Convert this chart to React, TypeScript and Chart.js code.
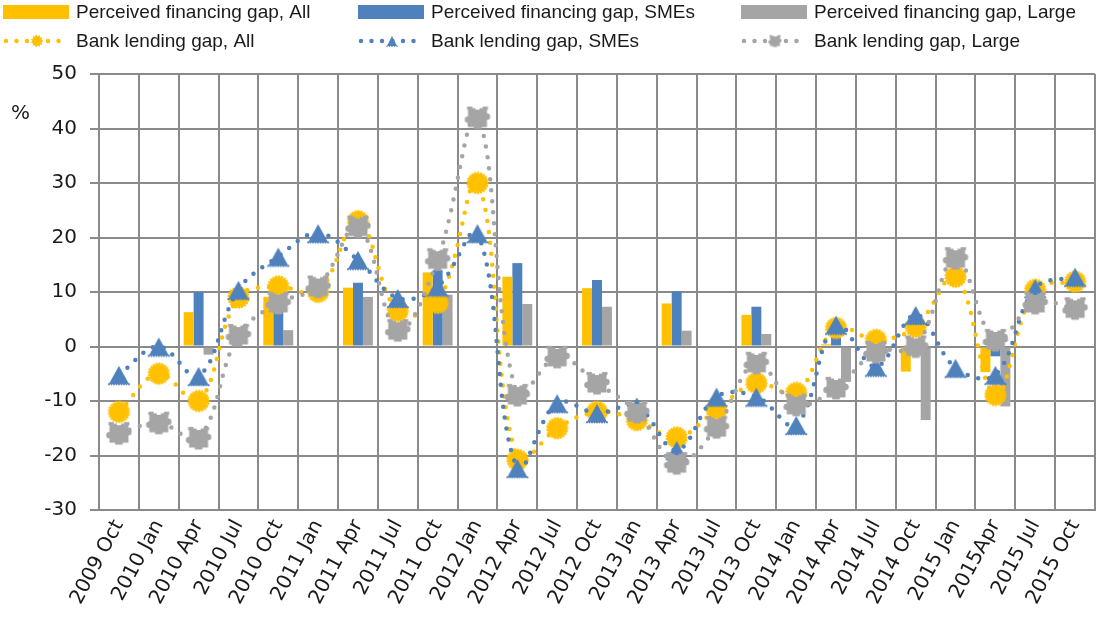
import React, { useEffect, useRef } from 'react';
import { Chart, registerables } from 'chart.js';

Chart.register(...registerables);

const categories = [
  '2009 Oct', '2010 Jan', '2010 Apr', '2010 Jul', '2010 Oct', '2011 Jan', '2011 Apr', '2011 Jul',
  '2011 Oct', '2012 Jan', '2012 Apr', '2012 Jul', '2012 Oct', '2013 Jan', '2013 Apr', '2013 Jul',
  '2013 Oct', '2014 Jan', '2014 Apr', '2014 Jul', '2014 Oct', '2015 Jan', '2015Apr', '2015 Jul', '2015 Oct',
];

const perceivedAll = [null, null, 6.3, null, 9.1, null, 10.8, null, 13.6, null, 12.8, null, 10.7, null, 7.9, null, 5.8, null, 0.4, null, -4.6, null, -4.7, null, null];
const perceivedSMEs = [null, null, 10, null, 7, null, 11.7, null, 14, null, 15.3, null, 12.2, null, 10.1, null, 7.3, null, 1.7, null, 1.0, null, -1.8, null, null];
const perceivedLarge = [null, null, -1.5, null, 3, null, 9.1, null, 9.5, null, 7.8, null, 7.3, null, 2.9, null, 2.3, null, -6.5, null, -13.5, null, -11, null, null];

const lendingAll = [-12, -5, -10, 9, 11, 10, 23, 6.5, 8, 30, -20.8, -15, -12, -13.5, -16.7, -11.6, -6.7, -8.5, 3.4, 1.2, 3.6, 12.8, -8.9, 10.4, 11.9];
const lendingSMEs = [-5.2, 0, -5.4, 10.4, 16.5, 20.8, 15.9, 8.9, 11, 20.8, -22.3, -10.4, -12.2, -11, -19, -9.2, -9.2, -14.4, 4, -3.7, 5.8, -3.9, -5.2, 10.7, 12.8];
const lendingLarge = [-15.9, -14, -16.8, 2.1, 8, 11, 22, 3, 16, 42, -8.9, -1.9, -6.7, -12, -21.4, -14.8, -3, -10.7, -7.6, -1, 0, 16.2, 1.2, 8, 7];

const yTicks = { min: -30, max: 50, step: 10 };

const YELLOW = '#FFC000';
const BLUE = '#4F81BD';
const GRAY = '#A5A5A5';
const GRID = '#8a8a8a';
const TXT = '#1a1a1a';

function makeCanvas(w: number, h: number) {
  const c = document.createElement('canvas');
  c.width = w;
  c.height = h;
  return c;
}

function rimDots(ctx: CanvasRenderingContext2D, pts: [number, number][], r: number) {
  for (const [x, y] of pts) {
    ctx.beginPath();
    ctx.arc(x, y, r, 0, Math.PI * 2);
    ctx.fill();
  }
}

function sunMarker(r: number, color: string) {
  const size = Math.ceil(2 * r + 6);
  const c = makeCanvas(size, size);
  const ctx = c.getContext('2d')!;
  const cx = size / 2, cy = size / 2;
  ctx.fillStyle = color;
  ctx.beginPath();
  ctx.arc(cx, cy, r, 0, Math.PI * 2);
  ctx.fill();
  const n = Math.max(8, Math.round(r * 2.2));
  const pts: [number, number][] = [];
  for (let i = 0; i < n; i++) {
    const a = (i / n) * Math.PI * 2;
    pts.push([cx + Math.cos(a) * (r + 0.4), cy + Math.sin(a) * (r + 0.4)]);
  }
  rimDots(ctx, pts, r > 6 ? 1.3 : 0.8);
  return c;
}

function triangleMarker(w: number, h: number, color: string) {
  const cw = Math.ceil(w + 4), ch = Math.ceil(h + 4);
  const c = makeCanvas(cw, ch);
  const ctx = c.getContext('2d')!;
  const cx = cw / 2, cy = ch / 2;
  ctx.fillStyle = color;
  ctx.beginPath();
  ctx.moveTo(cx, cy - h / 2);
  ctx.lineTo(cx + w / 2, cy + h / 2);
  ctx.lineTo(cx - w / 2, cy + h / 2);
  ctx.closePath();
  ctx.fill();
  const pts: [number, number][] = [];
  const n = Math.max(4, Math.round(w / 2.5));
  for (let i = 0; i <= n; i++) pts.push([cx - w / 2 + (w * i) / n, cy + h / 2 + 0.3]);
  rimDots(ctx, pts, w > 12 ? 1.1 : 0.7);
  return c;
}

function puzzleMarker(s: number, color: string) {
  const size = Math.ceil(s * 1.45);
  const c = makeCanvas(size, size);
  const ctx = c.getContext('2d')!;
  const cx = size / 2, cy = size / 2;
  const h = s / 2;
  const k = s * 0.17;
  ctx.fillStyle = color;
  ctx.fillRect(cx - h, cy - h, s, s);
  ctx.beginPath();
  ctx.arc(cx + h, cy - s * 0.05, k, 0, Math.PI * 2);
  ctx.fill();
  ctx.beginPath();
  ctx.arc(cx - h, cy + s * 0.1, k, 0, Math.PI * 2);
  ctx.fill();
  ctx.fillRect(cx - h - k * 0.3, cy - h - k * 0.5, s * 0.28, k);
  ctx.fillRect(cx + h - s * 0.28 + k * 0.3, cy - h - k * 0.5, s * 0.28, k);
  ctx.fillRect(cx - s * 0.2, cy + h - k * 0.4, s * 0.4, k);
  ctx.clearRect(cx - s * 0.1, cy - h - 1, s * 0.2, k * 0.7);
  return c;
}

export default function App() {
  const ref = useRef<HTMLCanvasElement>(null);

  useEffect(() => {
    document.body.style.margin = '0';
    document.body.style.overflow = 'hidden';

    const sun = sunMarker(9.5, YELLOW);
    const tri = triangleMarker(20, 18, BLUE);
    const puz = puzzleMarker(19, GRAY);
    const sunS = sunMarker(5, YELLOW);
    const triS = triangleMarker(10, 10, BLUE);
    const puzS = puzzleMarker(10, GRAY);

    const legendPlugin = {
      id: 'customLegend',
      afterDraw(chart: any) {
        const ctx: CanvasRenderingContext2D = chart.ctx;
        const ds = chart.data.datasets;
        const cols = [3, 358, 741];
        const colors = [YELLOW, BLUE, GRAY];
        const smalls = [sunS, triS, puzS];
        ctx.save();
        ctx.font = '19px "Liberation Sans", Arial, sans-serif';
        ctx.textBaseline = 'middle';
        ctx.textAlign = 'left';
        for (let i = 0; i < 3; i++) {
          const x0 = cols[i];
          ctx.fillStyle = colors[i];
          ctx.fillRect(x0, 5, 66, 14);
          ctx.fillStyle = TXT;
          ctx.fillText(ds[i].label, x0 + 73, 13);
          ctx.save();
          ctx.strokeStyle = colors[i];
          ctx.lineWidth = 4.5;
          ctx.lineCap = 'round';
          ctx.setLineDash([0, 10.5]);
          ctx.beginPath();
          ctx.moveTo(x0 + 3, 41);
          ctx.lineTo(x0 + 63, 41);
          ctx.stroke();
          ctx.restore();
          const m = smalls[i];
          ctx.drawImage(m, x0 + 34 - m.width / 2, 41 - m.height / 2);
          ctx.fillStyle = TXT;
          ctx.fillText(ds[i + 3].label, x0 + 73, 42);
        }
        ctx.font = '20px "DejaVu Sans", sans-serif';
        ctx.fillText('%', 11, 114);
        ctx.restore();
      },
    };

    const lineCommon = {
      type: 'line' as const,
      borderWidth: 4.5,
      borderDash: [0, 11],
      borderCapStyle: 'round' as const,
      borderJoinStyle: 'round' as const,
      tension: 0.38,
      fill: false,
      pointRadius: 10,
      pointHoverRadius: 10,
    };

    const chart = new Chart(ref.current!, {
      type: 'bar',
      data: {
        labels: categories,
        datasets: [
          { type: 'bar', label: 'Perceived financing gap, All', data: perceivedAll, backgroundColor: YELLOW, order: 10, categoryPercentage: 0.75, barPercentage: 1.0 },
          { type: 'bar', label: 'Perceived financing gap, SMEs', data: perceivedSMEs, backgroundColor: BLUE, order: 10, categoryPercentage: 0.75, barPercentage: 1.0 },
          { type: 'bar', label: 'Perceived financing gap, Large', data: perceivedLarge, backgroundColor: GRAY, order: 10, categoryPercentage: 0.75, barPercentage: 1.0 },
          { ...lineCommon, label: 'Bank lending gap, All', data: lendingAll, borderColor: YELLOW, backgroundColor: YELLOW, pointStyle: sun, order: 3 },
          { ...lineCommon, label: 'Bank lending gap, SMEs', data: lendingSMEs, borderColor: BLUE, backgroundColor: BLUE, pointStyle: tri, order: 2 },
          { ...lineCommon, label: 'Bank lending gap, Large', data: lendingLarge, borderColor: GRAY, backgroundColor: GRAY, pointStyle: puz, order: 1 },
        ] as any,
      },
      options: {
        animation: false,
        responsive: false,
        events: [],
        layout: { autoPadding: false, padding: { top: 74, right: 7, left: 0, bottom: 0 } },
        plugins: { legend: { display: false }, tooltip: { enabled: false } },
        scales: {
          x: {
            offset: true,
            grid: { display: true, offset: true, color: GRID, lineWidth: 2, drawTicks: false },
            border: { display: true, color: GRID, width: 2 },
            ticks: {
              autoSkip: false,
              maxRotation: 62,
              minRotation: 62,
              padding: 6,
              color: TXT,
              font: { family: '"DejaVu Sans", sans-serif', size: 20 },
            },
            afterFit: (s: any) => {
              s.height = 116;
              s.paddingLeft = 0;
              s.paddingRight = 0;
            },
          },
          y: {
            min: yTicks.min,
            max: yTicks.max,
            ticks: { stepSize: yTicks.step, padding: 13, color: TXT, font: { family: '"DejaVu Sans", sans-serif', size: 20 } },
            grid: { color: GRID, lineWidth: 2, tickLength: 9, drawTicks: true },
            border: { display: true, color: GRID, width: 2 },
            afterFit: (s: any) => {
              s.width = 99;
              s.paddingTop = 0;
              s.paddingBottom = 0;
            },
          },
        },
      },
      plugins: [legendPlugin],
    });

    return () => chart.destroy();
  }, []);

  return (
    <div style={{ width: 1102, height: 626 }}>
      <canvas ref={ref} width={1102} height={626} style={{ display: 'block' }} />
    </div>
  );
}
